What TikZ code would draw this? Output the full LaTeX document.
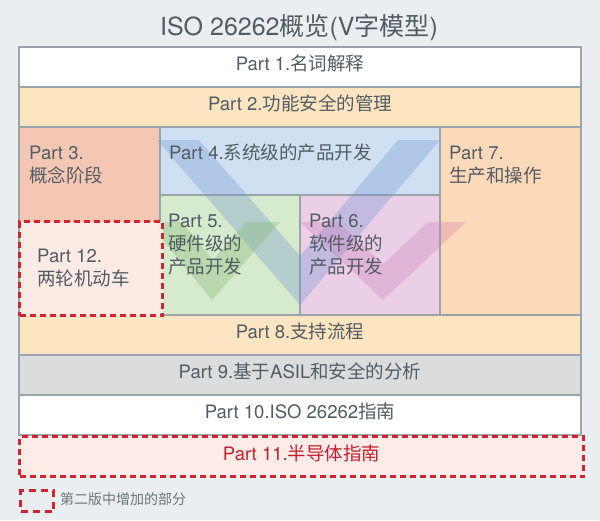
\documentclass[tikz,border=0pt]{standalone}
\usepackage{fontspec}
\setmainfont{TeX Gyre Heros}
\newfontfamily\cjkfont{Noto Sans CJK SC}
\newcommand{\zh}[1]{{\cjkfont #1}}
\definecolor{bgc}{HTML}{EAEEF1}
\definecolor{bordc}{HTML}{9BA4A9}
\definecolor{txtc}{HTML}{535C63}
\definecolor{redc}{HTML}{D22430}
\definecolor{redtxt}{HTML}{C42030}
\definecolor{c2}{HTML}{FCE5C0}
\definecolor{c3}{HTML}{F4C7B4}
\definecolor{c12}{HTML}{FCEBE4}
\definecolor{c4}{HTML}{D0E0F3}
\definecolor{c5}{HTML}{D6EACD}
\definecolor{c6}{HTML}{EBCFE7}
\definecolor{c7}{HTML}{FCD9B8}
\definecolor{c9}{HTML}{DADCDD}
\definecolor{c11}{HTML}{FCEBE7}
\definecolor{vblue}{HTML}{6E93CF}
\definecolor{vgreen}{HTML}{7DB36A}
\definecolor{vpink}{HTML}{CF7FB8}
\begin{document}
\begin{tikzpicture}[x=1pt,y=-1pt,
  cell/.style={draw=bordc, line width=1.2pt, anchor=north west, inner sep=0pt, outer sep=0pt,
    text=txtc, font=\fontsize{18.5}{22}\selectfont, text height=0.88em, text depth=0.12em},
  ltxt/.style={text=txtc, font=\fontsize{18.5}{22}\selectfont, inner sep=0pt, anchor=base west},
  reddash/.style={draw=redc, line width=3.2pt, dash pattern=on 6pt off 4pt},
  vshape/.style={opacity=0.32}]
\useasboundingbox (0,0) rectangle (600,520);
\fill[bgc] (0,0) rectangle (600,520);
% title
\node[text=txtc, font=\fontsize{25}{29}\selectfont, inner sep=0pt] (title) at (299,28)
  {ISO 26262\zh{概览}(V\zh{字模型})};
% rows
\node[cell, fill=white, minimum width=562pt, minimum height=40pt] (p1) at (19,47) {Part 1.\zh{名词解释}};
\node[cell, fill=c2, minimum width=562pt, minimum height=40pt] (p2) at (19,87) {Part 2.\zh{功能安全的管理}};
\node[cell, fill=c3, minimum width=141pt, minimum height=188pt] (p3) at (19,127) {};
\node[cell, fill=c4, minimum width=280pt, minimum height=68pt] (p4) at (160,127) {};
\node[cell, fill=c5, minimum width=140pt, minimum height=120pt] (p5) at (160,195) {};
\node[cell, fill=c6, minimum width=140pt, minimum height=120pt] (p6) at (300,195) {};
\node[cell, fill=c7, minimum width=141pt, minimum height=188pt] (p7) at (440,127) {};
\node[cell, fill=c2, minimum width=562pt, minimum height=40pt] (p8) at (19,315) {Part 8.\zh{支持流程}};
\node[cell, fill=c9, minimum width=562pt, minimum height=40pt] (p9) at (19,355) {Part 9.\zh{基于}ASIL\zh{和安全的分析}};
\node[cell, fill=white, minimum width=562pt, minimum height=40pt] (p10) at (19,395) {Part 10.ISO 26262\zh{指南}};
% V shapes
\fill[vshape, vblue] (157,140) -- (199,140) -- (300,256) -- (398,140) -- (440,140) -- (300,305) -- cycle;
\fill[vshape, vgreen] (148,222) -- (182,222) -- (213,260) -- (246,222) -- (280,222) -- (212,300) -- cycle;
\fill[vshape, vpink] (300,222) -- (338,222) -- (383,264) -- (428,222) -- (466,222) -- (383,300) -- cycle;
% added parts
\node[reddash, fill=c12, anchor=north west, minimum width=143pt, minimum height=94pt, inner sep=0pt] (p12) at (18,220) {};
\node[reddash, fill=c11, anchor=north west, minimum width=564pt, minimum height=40pt, inner sep=0pt,
  text=redtxt, font=\fontsize{18.5}{22}\selectfont, text height=0.88em, text depth=0.12em] (p11) at (18,435) {Part 11.\zh{半导体指南}};
% texts in middle cells
\node[ltxt] (t3a) at (29,159) {Part 3.};
\node[ltxt] (t3b) at (29,182) {\zh{概念阶段}};
\node[ltxt] (t4) at (169,159) {Part 4.\zh{系统级的产品开发}};
\node[ltxt] (t5a) at (168,227) {Part 5.};
\node[ltxt] (t5b) at (168,250) {\zh{硬件级的}};
\node[ltxt] (t5c) at (168,273) {\zh{产品开发}};
\node[ltxt] (t6a) at (309,227) {Part 6.};
\node[ltxt] (t6b) at (309,250) {\zh{软件级的}};
\node[ltxt] (t6c) at (309,273) {\zh{产品开发}};
\node[ltxt] (t7a) at (449,159) {Part 7.};
\node[ltxt] (t7b) at (449,182) {\zh{生产和操作}};
\node[ltxt] (t12a) at (37,262) {Part 12.};
\node[ltxt] (t12b) at (37,285) {\zh{两轮机动车}};
% legend
\node[draw=redc, line width=3pt, dash pattern=on 7pt off 5pt, anchor=north west, minimum width=33pt, minimum height=21pt, inner sep=0pt] (leg) at (19,489) {};
\node[anchor=west, text=txtc!85, font=\fontsize{14}{16}\selectfont, inner sep=0pt] (legt) at (60,499) {\zh{第二版中增加的部分}};
\end{tikzpicture}
\end{document}
